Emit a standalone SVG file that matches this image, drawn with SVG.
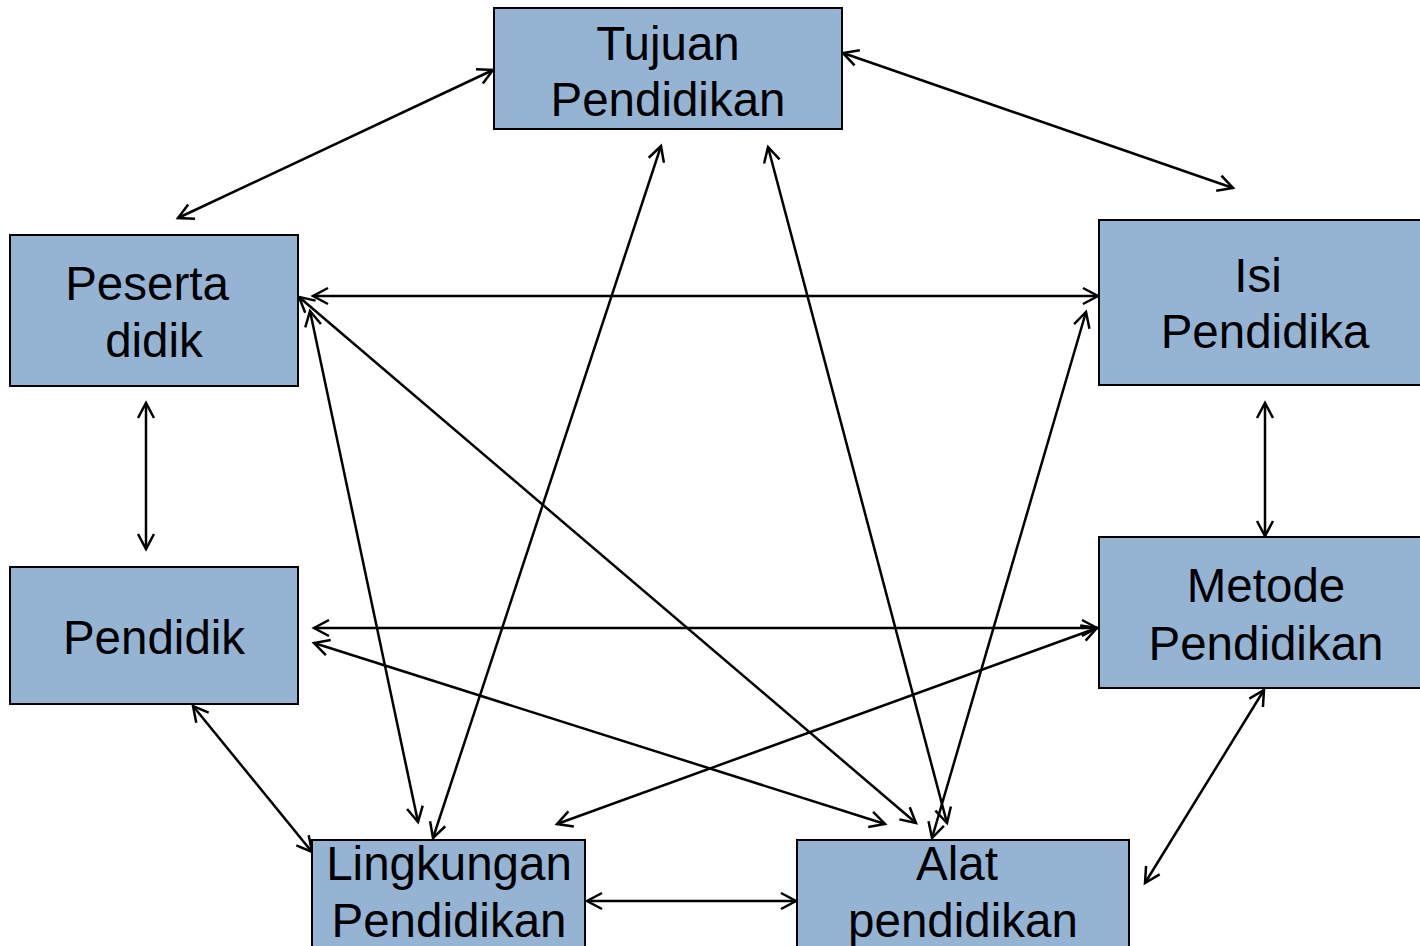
<svg xmlns="http://www.w3.org/2000/svg" width="1420" height="946" viewBox="0 0 1420 946">
<style>
.box{fill:#95b4d4;stroke:#000;stroke-width:2}
.t{font-family:"Liberation Sans",Arial,sans-serif;font-size:47.5px;fill:#000;text-anchor:middle}
.c line{stroke:#000;stroke-width:2.5;marker-start:url(#ah);marker-end:url(#ah)}
</style>
<defs>
<marker id="ah" markerUnits="userSpaceOnUse" markerWidth="30" markerHeight="30" refX="0" refY="0" viewBox="-20 -15 30 30" orient="auto-start-reverse">
<path d="M-15,-8 L0,0 L-15,8" fill="none" stroke="#000" stroke-width="2.5"/>
</marker>
</defs>
<rect width="1420" height="946" fill="#fff"/>
<g class="c" id="connectors">
<line x1="493" y1="70" x2="178" y2="218"/>
<line x1="843" y1="53" x2="1233" y2="188"/>
<line x1="313" y1="296" x2="1098" y2="296"/>
<line x1="299" y1="297" x2="916" y2="823"/>
<line x1="310" y1="311" x2="418" y2="822"/>
<line x1="661" y1="146" x2="433" y2="838"/>
<line x1="768" y1="147" x2="947" y2="823"/>
<line x1="1086" y1="312" x2="932" y2="838"/>
<line x1="1265" y1="403" x2="1265" y2="536"/>
<line x1="146" y1="403" x2="146" y2="549"/>
<line x1="314" y1="628" x2="1097" y2="628"/>
<line x1="314" y1="643" x2="885" y2="824"/>
<line x1="193" y1="706" x2="312" y2="852"/>
<line x1="1097" y1="628" x2="557" y2="824"/>
<line x1="1264" y1="690" x2="1145" y2="883"/>
<line x1="587" y1="901" x2="796" y2="901"/>
</g>
<g id="tujuan">
<rect class="box" x="494" y="8" width="348" height="121"/>
<text class="t" x="668" y="60">Tujuan</text>
<text class="t" x="668" y="116">Pendidikan</text>
</g>
<g id="peserta">
<rect class="box" x="10" y="235" width="288" height="151"/>
<text class="t" x="147" y="300">Peserta</text>
<text class="t" x="154" y="357">didik</text>
</g>
<g id="isi">
<rect class="box" x="1099" y="220" width="325" height="165"/>
<text class="t" x="1258" y="292">Isi</text>
<text class="t" x="1265" y="348">Pendidika</text>
</g>
<g id="metode">
<rect class="box" x="1099" y="537" width="325" height="151"/>
<text class="t" x="1266" y="602">Metode</text>
<text class="t" x="1266" y="660">Pendidikan</text>
</g>
<g id="pendidik">
<rect class="box" x="10" y="567" width="288" height="137"/>
<text class="t" x="154" y="654">Pendidik</text>
</g>
<g id="lingkungan">
<rect class="box" x="312" y="840" width="273" height="110"/>
<text class="t" x="449" y="880">Lingkungan</text>
<text class="t" x="449" y="937">Pendidikan</text>
</g>
<g id="alat">
<rect class="box" x="797" y="840" width="332" height="110"/>
<text class="t" x="957" y="880">Alat</text>
<text class="t" x="963" y="937">pendidikan</text>
</g>
</svg>
